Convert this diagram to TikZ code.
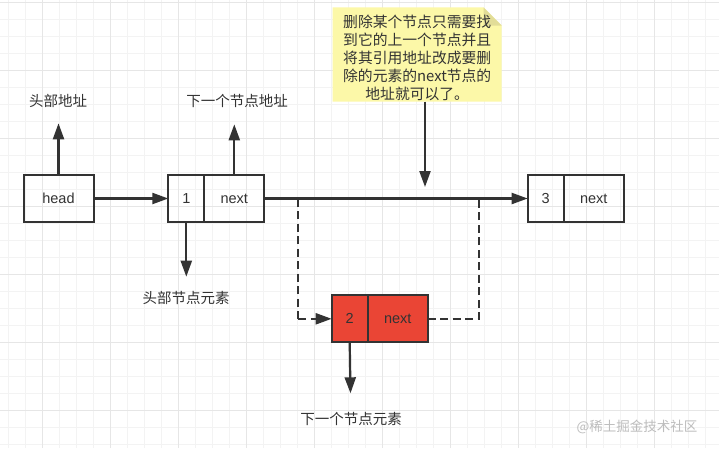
\documentclass[tikz,border=0pt]{standalone}
\usepackage{fontspec}
\setmainfont{Liberation Sans}
\newfontfamily\cjk{Noto Sans CJK SC}
\usetikzlibrary{arrows.meta,calc}
\definecolor{ink}{HTML}{333333}
\definecolor{gridminor}{HTML}{F3F3F3}
\definecolor{gridmajor}{HTML}{E6E6E6}
\definecolor{notefill}{HTML}{FCF8A8}
\definecolor{notefold}{HTML}{E2DD98}
\definecolor{redfill}{HTML}{EA4535}
\definecolor{wm}{HTML}{BDBDBD}
\tikzset{
  cell/.style={draw=ink, line width=2pt, minimum height=47pt, inner sep=0pt, outer sep=0pt,
    text=ink, font=\fontsize{14.5}{17}\selectfont},
  redcell/.style={cell, fill=redfill},
  lbl/.style={text=ink, inner sep=0pt, font=\cjk\fontsize{14.5}{17}\selectfont},
  tipstyle/.style={-{Triangle[length=16pt,width=11pt]}},
  arr/.style={draw=ink, line width=2.2pt, tipstyle},
  link/.style={draw=ink, line width=2.2pt},
  dashlink/.style={draw=ink, line width=2.2pt, dash pattern=on 8pt off 4.5pt},
}
\begin{document}
\begin{tikzpicture}[x=1pt,y=-1pt]
\useasboundingbox (0,0) rectangle (719,448);
\fill[white] (0,0) rectangle (719,448);
% grid
\foreach \gx in {8,25,...,719} \draw[gridminor, line width=1pt] (\gx,0) -- (\gx,448);
\foreach \gy in {2,19,...,448} \draw[gridminor, line width=1pt] (0,\gy) -- (719,\gy);
\foreach \gx in {42,110,...,719} \draw[gridmajor, line width=1pt] (\gx,0) -- (\gx,448);
\foreach \gy in {2,70,...,448} \draw[gridmajor, line width=1pt] (0,\gy) -- (719,\gy);

% note
\fill[notefill] (332.7,7.3) -- (483.5,7.3) -- (501.7,25.5) -- (501.7,101.7) -- (332.7,101.7) -- cycle;
\fill[notefold] (483.5,7.3) -- (501.7,25.5) -- (483.5,25.5) -- cycle;
\node[lbl, align=center, font=\cjk\fontsize{14.8}{18}\selectfont] (note) at (417.2,58)
  {删除某个节点只需要找\\到它的上一个节点并且\\将其引用地址改成要删\\除的元素的next节点的\\地址就可以了。};
\coordinate (noteb) at (425,101.7);

% list nodes
\node[cell, minimum width=70pt] (head) at (58.5,198.5) {head};
\node[cell, minimum width=36pt, anchor=west] (n1v) at (168.3,198.5) {1};
\node[cell, minimum width=60pt, anchor=west] (n1n) at (n1v.east) {next};
\node[cell, minimum width=36pt, anchor=west] (n3v) at (527.7,198.5) {3};
\node[cell, minimum width=60pt, anchor=west] (n3n) at (n3v.east) {next};
\node[redcell, minimum width=36pt, anchor=west] (n2v) at (331.7,318.8) {2};
\node[redcell, minimum width=60pt, anchor=west] (n2n) at (n2v.east) {next};

% labels
\node[lbl] (l1) at (58,100.7) {头部地址};
\node[lbl] (l2) at (237,100.7) {下一个节点地址};
\node[lbl] (l3) at (186,298.3) {头部节点元素};
\node[lbl] (l4) at (351,419.3) {下一个节点元素};
\node[inner sep=0pt, text=wm, font=\cjk\fontsize{13.5}{16}\selectfont] (wmk) at (637,427) {@稀土掘金技术社区};

% tip coordinates
\coordinate (t1) at (58.5,123.3);
\coordinate (t2) at (234.3,124.3);
\coordinate (t3) at (186.3,276.7);
\coordinate (t4) at (350.5,393.3);
\coordinate (t5) at (425,187);
\coordinate (d1) at (298.3,198.5);
\coordinate (d1b) at (298.3,318.8);
\coordinate (d2) at (479,198.5);
\coordinate (d2b) at (479,318.8);

% connectors
\draw[arr] (head.north) -- (t1);
\draw[arr] (n1n.north -| t2) -- (t2);
\draw[arr] (n1v.south) -- (t3);
\draw[arr] (n2v.south) -- (t4);
\draw[arr] (head.east) -- (n1v.west);
\draw[arr] (n1n.east) -- (n3v.west);
\draw[arr] (noteb) -- (t5);
\draw[dashlink] (d1) -- (d1b);
\draw[dashlink, tipstyle] (d1b) -- (n2v.west);
\draw[dashlink] (n2n.east) -- (d2b) -- (d2);
\end{tikzpicture}
\end{document}
